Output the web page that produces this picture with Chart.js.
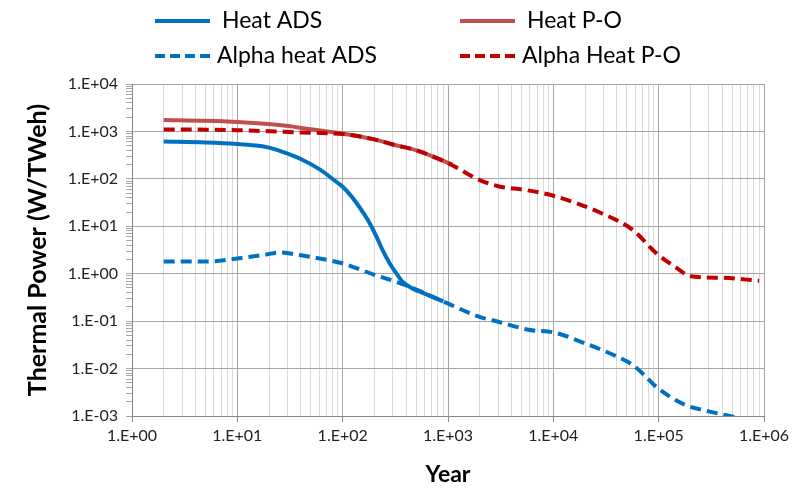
<!DOCTYPE html>
<html>
<head>
<meta charset="utf-8">
<script src="https://cdn.jsdelivr.net/npm/chart.js@4.4.1/dist/chart.umd.min.js"></script>
<style>
  html, body { margin: 0; padding: 0; background: #fff; }
  #wrap { width: 794px; height: 488px; }
</style>
</head>
<body>
<div id="wrap"><canvas id="chart" width="794" height="488"></canvas></div>
<script>
// values (log-log plot)
const heatAdsYears = [2, 5, 10, 15, 20, 30, 40, 60, 85, 100, 130, 160, 181, 210, 240, 280, 325, 375, 450, 600, 900];
const heatAdsValues = [610, 585, 545, 505, 455, 340, 262, 160, 90, 68, 35, 18, 11.5, 6, 3.1, 1.65, 1.0, 0.66, 0.5, 0.38, 0.26];

const heatPoYears = [2, 5, 10, 25, 50, 100, 200, 300, 500, 1100];
const heatPoValues = [1750, 1680, 1580, 1360, 1110, 900, 680, 530, 400, 200];

const alphaAdsYears = [2, 5, 10, 18, 25, 40, 60, 100, 200, 400, 900, 2000, 3000, 6000, 10000, 20000, 40000, 57000, 76000, 95000, 180000, 280000, 550000];
const alphaAdsValues = [1.8, 1.8, 2.1, 2.5, 2.8, 2.45, 2.1, 1.65, 0.95, 0.57, 0.26, 0.123, 0.097, 0.065, 0.058, 0.034, 0.018, 0.0118, 0.0067, 0.0041, 0.0017, 0.0013, 0.00093];

const alphaPoYears = [2, 5, 10, 20, 40, 70, 100, 200, 300, 500, 1000, 2000, 3000, 5500, 10000, 27000, 57000, 95000, 150000, 200000, 400000, 900000];
const alphaPoValues = [1100, 1090, 1060, 1010, 950, 920, 880, 680, 530, 400, 215, 94, 70, 58, 44, 20, 8.3, 2.7, 1.3, 0.88, 0.82, 0.71];

const xTickRange = [1, 1e6];
const yTickRange = [1e-3, 1e4];

const blue = '#0070C0';
const brick = '#C0504D';
const darkRed = '#C00000';

function toPoints(xs, ys) {
  return xs.map((x, i) => ({ x: x, y: ys[i] }));
}

function isDecade(v) {
  const l = Math.log10(v);
  return Math.abs(l - Math.round(l)) < 1e-6;
}

function sciLabel(v) {
  if (!isDecade(v)) return '';
  const e = Math.round(Math.log10(v));
  return '1.E' + (e < 0 ? '-' : '+') + String(Math.abs(e)).padStart(2, '0');
}

// 1..9 x 10^e ticks, so the grid matches the spreadsheet-style log axis
function logTicks(range) {
  const out = [];
  const e0 = Math.round(Math.log10(range[0]));
  const e1 = Math.round(Math.log10(range[1]));
  for (let e = e0; e < e1; e++) {
    for (let k = 1; k < 10; k++) out.push({ value: parseFloat((k * Math.pow(10, e)).toPrecision(6)) });
  }
  out.push({ value: range[1] });
  return out;
}

const legendItems = [
  { text: 'Heat ADS', color: blue, dash: [], x: 155, y: 21 },
  { text: 'Heat P-O', color: brick, dash: [], x: 460, y: 21 },
  { text: 'Alpha heat ADS', color: blue, dash: [10, 5], x: 155, y: 56 },
  { text: 'Alpha Heat P-O', color: darkRed, dash: [10, 5], x: 460, y: 56 }
];

const legendPlugin = {
  id: 'twoRowLegend',
  afterDraw(chart) {
    const ctx = chart.ctx;
    ctx.save();
    ctx.font = '23px Lato';
    ctx.textBaseline = 'middle';
    ctx.fillStyle = '#000';
    legendItems.forEach(it => {
      ctx.strokeStyle = it.color;
      ctx.lineWidth = 4;
      ctx.setLineDash(it.dash);
      ctx.beginPath();
      ctx.moveTo(it.x, it.y);
      ctx.lineTo(it.x + 55, it.y);
      ctx.stroke();
      ctx.setLineDash([]);
      ctx.fillText(it.text, it.x + (it.dash.length ? 62 : 67), it.y);
    });
    ctx.restore();
  }
};

const ctx = document.getElementById('chart').getContext('2d');
new Chart(ctx, {
  type: 'line',
  data: {
    datasets: [
      {
        label: 'Alpha Heat P-O',
        data: toPoints(alphaPoYears, alphaPoValues),
        borderColor: darkRed,
        borderDash: [11, 6],
        order: 0
      },
      {
        label: 'Heat ADS',
        data: toPoints(heatAdsYears, heatAdsValues),
        borderColor: blue,
        order: 1
      },
      {
        label: 'Alpha heat ADS',
        data: toPoints(alphaAdsYears, alphaAdsValues),
        borderColor: blue,
        borderDash: [11, 6],
        order: 2
      },
      {
        label: 'Heat P-O',
        data: toPoints(heatPoYears, heatPoValues),
        borderColor: brick,
        order: 3
      }
    ]
  },
  options: {
    responsive: false,
    animation: false,
    layout: { padding: { top: 84, right: 30, bottom: 0, left: 0 } },
    elements: {
      point: { radius: 0 },
      line: { borderWidth: 4, cubicInterpolationMode: 'monotone', fill: false, borderCapStyle: 'butt' }
    },
    plugins: {
      legend: { display: false },
      tooltip: { enabled: false }
    },
    scales: {
      x: {
        type: 'logarithmic',
        min: xTickRange[0],
        max: xTickRange[1],
        afterBuildTicks: s => { s.ticks = logTicks(xTickRange); },
        afterFit: s => { s.height = 72; },
        border: { color: '#868686' },
        grid: {
          color: c => (c.tick && isDecade(c.tick.value)) ? '#a6a6a6' : '#d9d9d9',
          tickColor: c => (c.tick && isDecade(c.tick.value)) ? '#868686' : 'rgba(0,0,0,0)',
          tickLength: 6
        },
        ticks: {
          autoSkip: false,
          maxRotation: 0,
          padding: 4,
          color: '#222',
          font: { family: 'Lato', size: 16 },
          callback: v => sciLabel(v)
        },
        title: {
          display: true,
          text: 'Year',
          color: '#000',
          font: { family: 'Lato', size: 23, weight: 'bold' },
          padding: { top: 0, bottom: 0 }
        }
      },
      y: {
        type: 'logarithmic',
        min: yTickRange[0],
        max: yTickRange[1],
        afterBuildTicks: s => { s.ticks = logTicks(yTickRange); },
        afterFit: s => { s.width = 132; },
        border: { color: '#868686' },
        grid: {
          color: c => (c.tick && isDecade(c.tick.value)) ? '#a6a6a6' : 'rgba(0,0,0,0)',
          tickColor: '#a6a6a6',
          tickLength: 6
        },
        ticks: {
          autoSkip: false,
          padding: 8,
          color: '#222',
          font: { family: 'Lato', size: 16 },
          callback: v => sciLabel(v)
        },
        title: {
          display: true,
          text: 'Thermal Power (W/TWeh)',
          color: '#000',
          font: { family: 'Lato', size: 25, weight: 'bold' },
          padding: { top: 23, bottom: 0 }
        }
      }
    }
  },
  plugins: [legendPlugin]
});
</script>
</body>
</html>
